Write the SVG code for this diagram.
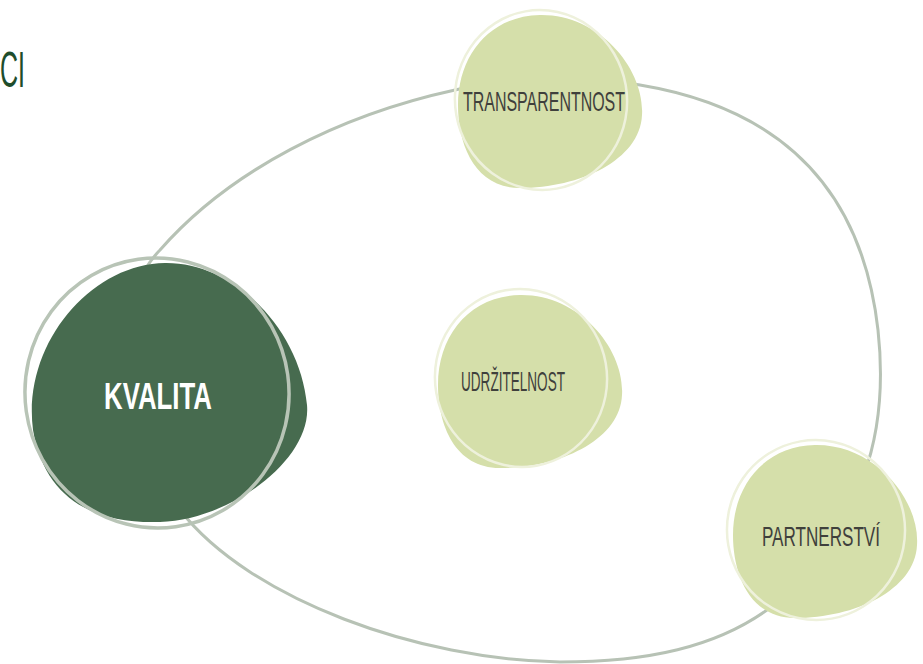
<svg xmlns="http://www.w3.org/2000/svg" width="923" height="664" viewBox="0 0 923 664">
<defs>
<style>
.loop{fill:none;stroke:#b7c2b5;stroke-width:3}
.lblob{fill:#d5dfaa}
.lring{fill:none;stroke:#eef1dc;stroke-width:2.5}
.lbl{font-family:"Liberation Sans",Arial,sans-serif;fill:#3f403c;font-size:28px;text-anchor:start}
</style>
<path id="lb" d="M 540,15 C 600,14 645,70 642,115 C 640,160 580,188 520,188 C 475,188 458,145 458,105 C 458,55 490,16 540,15 Z"/>
</defs>
<rect width="923" height="664" fill="#ffffff"/>
<text x="0" y="87" font-family="Liberation Sans, Arial, sans-serif" font-size="50" fill="#1e4d2b" textLength="25" lengthAdjust="spacingAndGlyphs">CI</text>
<g id="connectors">
<path class="loop" d="M 455,90 C 540,70 600,78 640,85 C 760,105 860,170 878,330 C 890,440 860,520 780,600 C 720,650 640,662 560,662 C 420,660 250,600 180,510 C 100,400 120,290 160,250 C 230,170 340,115 455,90 Z"/>
</g>
<g id="kvalita">
<path fill="#476b4f" d="M 165,263 C 235,262 300,330 307,405 C 312,460 230,520 160,522 C 95,524 45,500 33,430 C 22,345 90,264 165,263 Z"/>
<ellipse cx="157" cy="393" rx="132" ry="135" transform="rotate(-8 157 393)" fill="none" stroke="#b8c4b6" stroke-width="3.5"/>
<text x="104" y="409" font-family="Liberation Sans, Arial, sans-serif" font-weight="bold" font-size="37" fill="#ffffff" textLength="108" lengthAdjust="spacingAndGlyphs">KVALITA</text>
</g>
<g id="transparentnost">
<use href="#lb" class="lblob"/>
<ellipse class="lring" cx="541" cy="100" rx="86" ry="90" transform="rotate(-10 541 100)"/>
<text class="lbl" x="463" y="111" textLength="162" lengthAdjust="spacingAndGlyphs">TRANSPARENTNOST</text>
</g>
<g id="udrzitelnost">
<use href="#lb" class="lblob" transform="translate(-20,280)"/>
<ellipse class="lring" cx="521" cy="378" rx="86" ry="89" transform="rotate(-10 521 378)"/>
<text class="lbl" x="461" y="391" textLength="104" lengthAdjust="spacingAndGlyphs">UDRŽITELNOST</text>
</g>
<g id="partnerstvi">
<use href="#lb" class="lblob" transform="translate(275,430)"/>
<ellipse class="lring" cx="816" cy="530" rx="89" ry="90" transform="rotate(-10 816 530)"/>
<text class="lbl" x="762" y="546" textLength="118" lengthAdjust="spacingAndGlyphs">PARTNERSTVÍ</text>
</g>
</svg>
